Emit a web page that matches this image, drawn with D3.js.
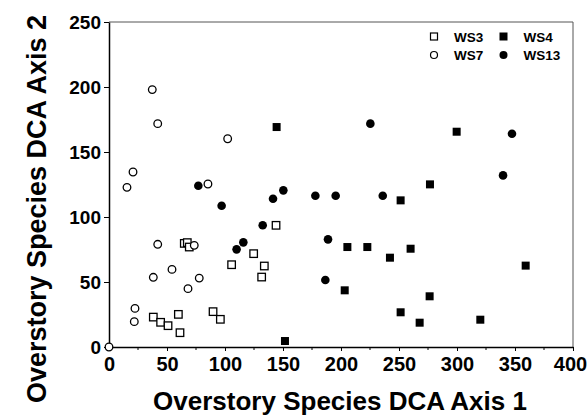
<!DOCTYPE html>
<html><head><meta charset="utf-8">
<script src="https://cdn.jsdelivr.net/npm/d3@7"></script>
<style>body{margin:0;background:#fff}svg text{font-family:"Liberation Sans",Arial,sans-serif;font-weight:bold;fill:#000}</style>
</head><body><svg id="c" width="588" height="418"></svg>
<script>
const ws3 = [[64.9,79.7],[67.5,80.3],[69.2,76.9],[144,93.6],[124.7,71.8],[105.7,63.3],[133.9,62.3],[131.6,53.8],[38.2,23],[44.5,19],[50.9,16.4],[59.8,25.1],[61.2,11],[89.7,27.2],[96,21.3]];
const ws7 = [[37.3,198],[42,171.8],[102.3,160.2],[20.7,134.6],[15.5,122.8],[85.3,125.4],[42,79],[73.5,78.2],[54.3,59.7],[38.2,53.6],[77.8,53],[68.1,44.9],[22.4,29.7],[21.8,19.5],[0,0]];
const ws4 = [[144.5,169.2],[299.7,165.6],[276.7,125.1],[251.4,112.8],[205.5,76.9],[222.7,76.9],[260,75.6],[242.2,68.7],[359.2,62.6],[203.2,43.6],[276.4,39],[251.4,26.7],[267.8,18.7],[320.1,21],[151.7,4.6]];
const ws13 = [[77,124],[150.3,120.5],[141.4,114],[177.9,116.4],[195.4,116.4],[236,116.4],[97.1,108.7],[132.5,93.6],[115.8,80.5],[110,75.1],[188.8,82.8],[186.5,51.5],[225.3,171.8],[347.4,164],[339.7,132]];
const xTicks = [0,50,100,150,200,250,300,350,400];
const yTicks = [0,50,100,150,200,250];
const seriesNames = ["WS3","WS4","WS7","WS13"];

const svg = d3.select("#c");
const x = d3.scaleLinear().domain([0,400]).range([109,573]);
const y = d3.scaleLinear().domain([0,250]).range([347,22]);

// frame top/right
svg.append("path").attr("d",`M${x(0)},${y(250)}H${x(400)}V${y(0)}`).attr("fill","none").attr("stroke","#555").attr("stroke-width",1);

// minor ticks x
const xMinor = d3.range(25,400,50);
svg.append("g").selectAll("line").data(xMinor).join("line")
  .attr("x1",d=>x(d)).attr("x2",d=>x(d)).attr("y1",y(0)).attr("y2",y(0)+3).attr("stroke","#000");

const gx = svg.append("g").attr("transform",`translate(0,${y(0)})`)
  .call(d3.axisBottom(x).tickValues(xTicks).tickSize(4).tickSizeOuter(0).tickPadding(6));
gx.selectAll("text").style("font-size","20px");
gx.selectAll(".tick").filter(d=>d===400).select("text").attr("dx","-3");
gx.select(".domain").attr("stroke-width",1.5);
const gy = svg.append("g").attr("transform",`translate(${x(0)},0)`)
  .call(d3.axisLeft(y).tickValues(yTicks).tickSize(5).tickSizeOuter(0).tickPadding(3));
gy.selectAll("text").style("font-size","19px");
gy.select(".domain").attr("stroke-width",1.5);

// points
const sq = 7.5;
svg.append("g").selectAll("rect").data(ws3).join("rect")
  .attr("x",d=>x(d[0])-sq/2).attr("y",d=>y(d[1])-sq/2).attr("width",sq).attr("height",sq)
  .attr("fill","#fff").attr("stroke","#000").attr("stroke-width",1.3);
svg.append("g").selectAll("circle").data(ws7).join("circle")
  .attr("cx",d=>x(d[0])).attr("cy",d=>y(d[1])).attr("r",3.8)
  .attr("fill","#fff").attr("stroke","#000").attr("stroke-width",1.3);
svg.append("g").selectAll("rect").data(ws4).join("rect")
  .attr("x",d=>x(d[0])-4).attr("y",d=>y(d[1])-4).attr("width",8).attr("height",8).attr("fill","#000");
svg.append("g").selectAll("circle").data(ws13).join("circle")
  .attr("cx",d=>x(d[0])).attr("cy",d=>y(d[1])).attr("r",4.3).attr("fill","#000");

// legend
const lg = svg.append("g");
const legItems = [
  {n:seriesNames[0],cx:434,cy:36.5,t:"osq"},
  {n:seriesNames[1],cx:503.5,cy:36.5,t:"fsq"},
  {n:seriesNames[2],cx:434,cy:55,t:"oci"},
  {n:seriesNames[3],cx:503.5,cy:55,t:"fci"}];
legItems.forEach(it=>{
  if(it.t==="osq") lg.append("rect").attr("x",it.cx-3.5).attr("y",it.cy-3.5).attr("width",7).attr("height",7).attr("fill","#fff").attr("stroke","#000").attr("stroke-width",1.2);
  if(it.t==="fsq") lg.append("rect").attr("x",it.cx-4).attr("y",it.cy-4).attr("width",8).attr("height",8).attr("fill","#000");
  if(it.t==="oci") lg.append("circle").attr("cx",it.cx).attr("cy",it.cy).attr("r",3.5).attr("fill","#fff").attr("stroke","#000").attr("stroke-width",1.2);
  if(it.t==="fci") lg.append("circle").attr("cx",it.cx).attr("cy",it.cy).attr("r",4).attr("fill","#000");
  lg.append("text").attr("x",it.cx+20).attr("y",it.cy+5).style("font-size","13.5px").text(it.n);
});

// titles
svg.append("text").attr("x",340).attr("y",410).attr("text-anchor","middle").style("font-size","26px").text("Overstory Species DCA Axis 1");
svg.append("text").attr("transform","translate(46,209) rotate(-90)").attr("text-anchor","middle").style("font-size","27px").text("Overstory Species DCA Axis 2");
</script></body></html>
